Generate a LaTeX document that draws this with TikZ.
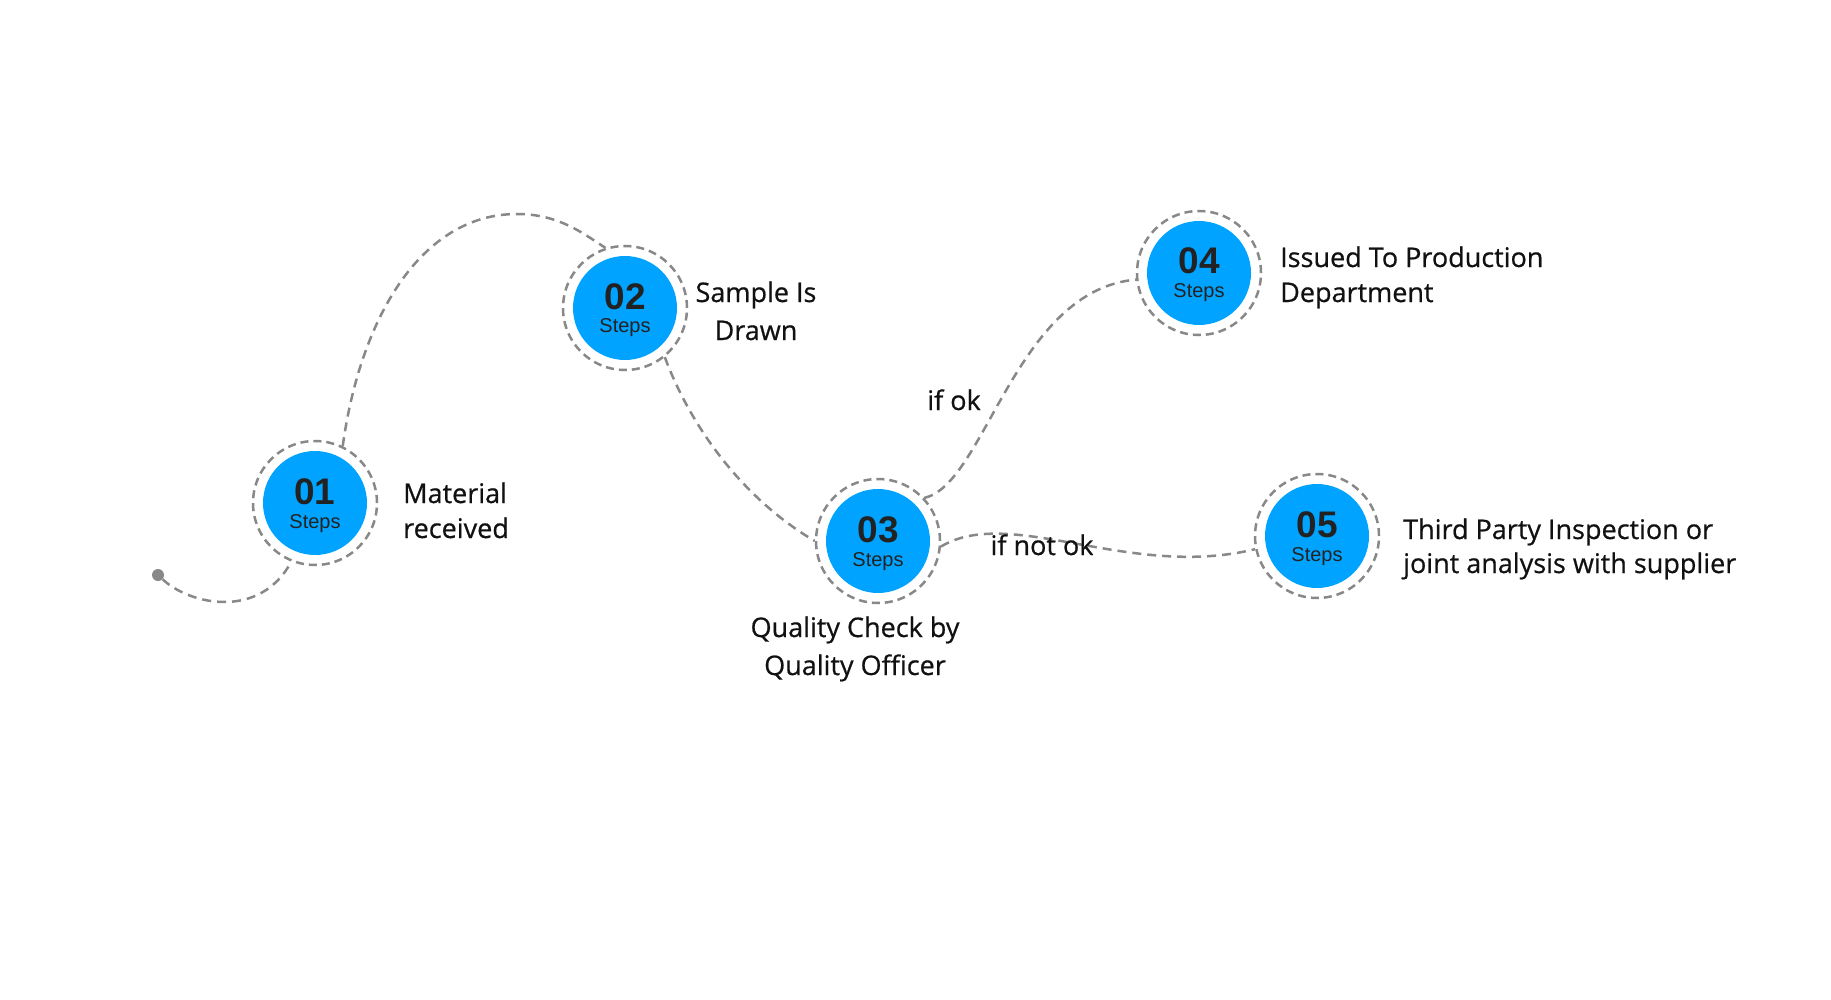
\documentclass[tikz,border=0pt]{standalone}
\usepackage{fontspec}
\setmainfont{Open Sans}
\newfontfamily\labelfont[FakeBold=0.6]{Open Sans}
\newfontfamily\numfont{Liberation Sans}
\definecolor{stepblue}{RGB}{0,163,255}
\definecolor{linegray}{RGB}{136,136,136}
\definecolor{txtcol}{RGB}{17,17,17}
\definecolor{numtxt}{RGB}{34,34,34}
\begin{document}
\begin{tikzpicture}[x=1pt,y=-1pt,
  ring/.style={circle, draw=linegray, line width=2.5pt, dash pattern=on 8pt off 5pt, minimum size=124pt, inner sep=0pt},
  disc/.style={circle, fill=stepblue, minimum size=104pt, inner sep=0pt},
  numtext/.style={font=\numfont\bfseries\fontsize{37}{37}\selectfont, text=numtxt, inner sep=0pt},
  subtext/.style={font=\numfont\fontsize{20}{20}\selectfont, text=numtxt, inner sep=0pt},
  steplabel/.style={text=txtcol, inner sep=0pt},
  conn/.style={draw=linegray, line width=2.5pt, dash pattern=on 9pt off 6pt},
]
\useasboundingbox (0,0) rectangle (1831,1000);

% step circles
\node[ring] (r1) at (315,503) {};
\node[disc] (d1) at (315,503) {};
\node[numtext, anchor=base] (n1) at (315,504) {01};
\node[subtext, anchor=base] (s1) at (315,528) {Steps};

\node[ring] (r2) at (625,308) {};
\node[disc] (d2) at (625,308) {};
\node[numtext, anchor=base] (n2) at (625,309) {02};
\node[subtext, anchor=base] (s2) at (625,333) {Steps};

\node[ring] (r3) at (878,541) {};
\node[disc] (d3) at (878,541) {};
\node[numtext, anchor=base] (n3) at (878,542) {03};
\node[subtext, anchor=base] (s3) at (878,566) {Steps};

\node[ring] (r4) at (1199,273) {};
\node[disc] (d4) at (1199,273) {};
\node[numtext, anchor=base] (n4) at (1199,274) {04};
\node[subtext, anchor=base] (s4) at (1199,298) {Steps};

\node[ring] (r5) at (1317,536) {};
\node[disc] (d5) at (1317,536) {};
\node[numtext, anchor=base] (n5) at (1317,537) {05};
\node[subtext, anchor=base] (s5) at (1317,561) {Steps};

% start dot
\node[circle, fill=linegray, minimum size=12pt, inner sep=0pt] (start) at (158,575) {};
\coordinate (peak) at (517,214);

% connectors
\draw[conn] (start) .. controls (190,605) and (260,620) .. (r1.248);
\draw[conn] (r1.64) .. controls (360,320) and (420,214) .. (peak)
            .. controls (560,214) and (585,235) .. (r2.108);
\draw[conn] (r2.309) .. controls (692,430) and (745,500) .. (r3.180);
\draw[conn] (r3.43) .. controls (985,485) and (1015,290) .. (r4.186);
\draw[conn] (r3.355) .. controls (1010,505) and (1130,580) .. (r5.192);

% labels (base anchor = baseline of the last line)
\node[steplabel, anchor=base west, align=left, font=\labelfont\fontsize{27}{35}\selectfont] (t1) at (403,538) {Material\\received};
\node[steplabel, anchor=base, align=center, font=\labelfont\fontsize{27}{38}\selectfont] (t2) at (756,340) {Sample Is\\Drawn};
\node[steplabel, anchor=base, align=center, font=\labelfont\fontsize{27}{38}\selectfont] (t3) at (855,675) {Quality Check by\\Quality Officer};
\node[steplabel, anchor=base west, align=left, font=\labelfont\fontsize{27}{35}\selectfont] (t4) at (1280,302) {Issued To Production\\Department};
\node[steplabel, anchor=base west, align=left, font=\labelfont\fontsize{27}{34}\selectfont] (t5) at (1403,573) {Third Party Inspection or\\joint analysis with supplier};
\node[steplabel, anchor=base, font=\labelfont\fontsize{27}{34}\selectfont] (ok) at (954,410) {if ok};
\node[steplabel, anchor=base, font=\labelfont\fontsize{27}{34}\selectfont] (notok) at (1042,555) {if not ok};
\end{tikzpicture}
\end{document}
